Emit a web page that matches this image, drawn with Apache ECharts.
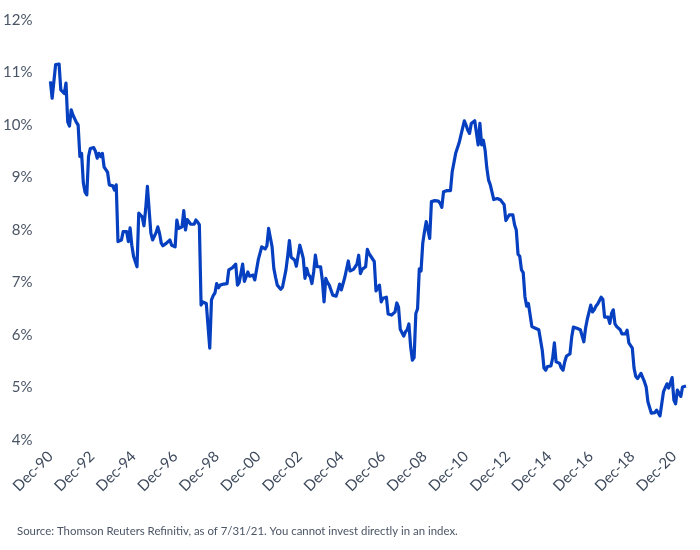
<!DOCTYPE html>
<html>
<head>
<meta charset="utf-8">
<title>Yield chart</title>
<script src="https://cdn.jsdelivr.net/npm/echarts@6/dist/echarts.min.js"></script>
<style>
  html, body { margin: 0; padding: 0; background: #fff; }
  #main { width: 700px; height: 550px; }
</style>
</head>
<body>
<div id="main"></div>
<script type="text/javascript">
// monthly values, Dec-90 .. Jul-21
var yields = [
  10.83,10.51,10.54,11.15,11.16,11.16,10.67,10.67,10.6,10.8,
  10.06,9.98,10.29,10.19,10.22,10.05,10.0,9.4,9.46,8.9,
  8.72,8.67,9.4,9.55,9.57,9.57,9.5,9.37,9.46,9.4,
  9.46,9.2,9.15,9.1,8.86,8.85,8.84,8.76,8.86,7.78,
  7.8,7.81,7.97,7.97,7.97,7.78,8.04,7.71,7.5,7.4,
  7.3,8.32,8.32,8.25,8.08,8.4,8.83,8.8,7.94,7.81,
  7.81,7.95,8.06,7.94,7.75,7.7,7.68,7.75,7.78,7.81,
  7.71,7.7,7.68,8.19,8.03,8.05,8.06,8.37,8.0,8.2,
  8.19,8.11,8.11,8.11,8.19,8.15,8.1,6.57,6.63,6.62,
  6.6,6.6,5.75,6.67,6.75,6.8,6.98,6.9,6.95,6.96,
  6.97,6.98,6.98,7.24,7.27,7.28,7.3,7.35,6.95,7.0,
  7.01,7.35,7.02,7.02,7.2,7.12,7.13,7.14,7.05,7.05,
  7.43,7.46,7.68,7.66,7.64,7.7,8.03,7.85,7.68,7.27,
  7.1,6.95,6.95,6.87,6.91,6.91,7.24,7.5,7.8,7.48,
  7.45,7.43,7.31,7.3,7.71,7.59,7.46,7.08,7.27,7.15,
  7.11,6.98,7.2,7.52,7.3,7.33,7.3,7.05,6.63,7.08,
  7.0,6.95,6.95,6.76,6.75,6.74,6.85,6.97,6.86,6.85,
  7.1,7.08,7.41,7.22,7.24,7.25,7.3,7.35,7.52,7.17,
  7.25,7.27,7.3,7.63,7.55,7.5,7.49,7.4,6.84,6.86,
  6.95,6.63,6.7,6.7,6.72,6.4,6.4,6.38,6.4,6.44,
  6.61,6.53,6.11,6.1,5.98,6.06,6.1,6.21,5.78,5.52,
  5.57,6.41,6.5,7.26,7.22,7.75,7.97,8.16,8.19,7.84,
  8.54,8.55,8.56,8.56,8.55,8.51,8.43,8.73,8.74,8.75,
  8.77,8.75,9.11,9.14,9.46,9.49,9.66,9.68,9.94,10.08,
  10.0,9.9,9.84,10.03,10.06,10.08,10.1,9.62,10.03,9.62,
  9.71,9.52,9.18,8.95,8.86,8.84,8.58,8.61,8.6,8.58,
  8.57,8.56,8.48,8.18,8.18,8.29,8.29,8.29,8.1,8.0,
  7.54,7.5,7.24,7.19,6.73,6.55,6.6,6.61,6.16,6.15,
  6.13,6.12,6.1,6.09,5.71,5.37,5.33,5.4,5.41,5.41,
  5.56,5.85,5.49,5.49,5.46,5.37,5.33,5.49,5.6,5.62,
  5.64,5.96,6.15,6.14,6.13,6.11,6.1,6.07,5.87,6.13,
  6.3,6.3,6.57,6.44,6.48,6.55,6.59,6.61,6.72,6.68,
  6.34,6.34,6.34,6.22,6.41,6.48,6.21,6.16,6.13,6.1,
  6.02,6.02,6.02,6.09,5.85,5.83,5.75,5.37,5.21,5.17,
  5.2,5.27,5.26,5.11,5.01,4.73,4.76,4.51,4.52,4.52,
  4.57,4.56,4.46,4.48,4.92,4.95,5.07,4.99,5.01,5.19,
  4.76,4.69,4.95,4.92,4.83,5.01,5.03,5.03
];
var monthNames = ['Jan','Feb','Mar','Apr','May','Jun','Jul','Aug','Sep','Oct','Nov','Dec'];
var yTicks = [4, 5, 6, 7, 8, 9, 10, 11, 12];
var sourceNote = 'Source: Thomson Reuters Refinitiv, as of 7/31/21. You cannot invest directly in an index.';

// month labels starting Dec-1990
var months = [];
for (var i = 0; i < yields.length; i++) {
  var mi = (11 + i) % 12;
  var yr = 1990 + Math.floor((11 + i) / 12);
  months.push(monthNames[mi] + '-' + String(yr).slice(2));
}

var myChart = echarts.init(document.getElementById('main'));
var txt = '#4a5566';

myChart.setOption({
  animation: false,
  textStyle: { fontFamily: 'Lato' },
  title: {
    text: sourceNote,
    left: 12, top: 521,
    textStyle: { fontSize: 11.4, fontWeight: 'normal', color: txt, fontFamily: 'Lato' }
  },
  grid: { left: 50, right: 14, top: 20, bottom: 110, containLabel: false },
  xAxis: {
    type: 'category',
    data: months,
    boundaryGap: false,
    axisLine: { show: false },
    axisTick: { show: false },
    splitLine: { show: false },
    axisLabel: {
      interval: 23,
      rotate: 45,
      margin: 14,
      color: '#3e4a5c',
      fontSize: 15,
      fontFamily: 'Lato'
    }
  },
  yAxis: {
    type: 'value',
    min: yTicks[0],
    max: yTicks[yTicks.length - 1],
    interval: 1,
    axisLine: { show: false },
    axisTick: { show: false },
    splitLine: { show: false },
    axisLabel: {
      margin: 18,
      color: txt,
      fontSize: 15,
      fontFamily: 'Lato',
      formatter: '{value}%'
    }
  },
  series: [{
    type: 'line',
    data: yields,
    symbol: 'none',
    lineStyle: { color: '#0640c0', width: 3.2, join: 'round' }
  }]
});
</script>
</body>
</html>
